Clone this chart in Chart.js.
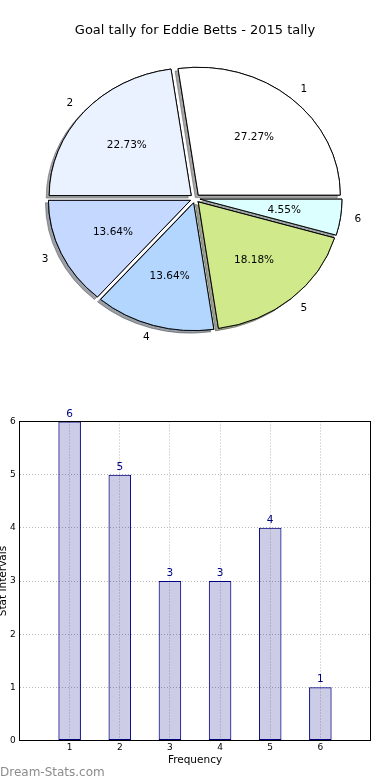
<!DOCTYPE html>
<html>
<head>
<meta charset="utf-8">
<script src="https://cdn.jsdelivr.net/npm/chart.js@4/dist/chart.umd.min.js"></script>
<style>
html,body{margin:0;padding:0;background:#fff;width:390px;height:780px;overflow:hidden;position:relative;font-family:"DejaVu Sans",sans-serif;}
#pieWrap{position:absolute;left:0;top:0;width:390px;height:400px;}
#barWrap{position:absolute;left:-3px;top:400px;width:393px;height:380px;}
#title{position:absolute;left:0;top:21.5px;width:390px;text-align:center;font-size:13px;line-height:16px;color:#000;}
#wm{position:absolute;left:0;top:765px;font-size:12px;line-height:14px;color:#8c8c8c;}
</style>
</head>
<body>
<div id="pieWrap"><canvas id="pie" width="390" height="400"></canvas></div>
<div id="barWrap"><canvas id="bar" width="393" height="380"></canvas></div>
<div id="title">Goal tally for Eddie Betts - 2015 tally</div>
<div id="wm">Dream-Stats.com</div>
<script>
// ---- data ----
const categories = [1, 2, 3, 4, 5, 6];
const goalCounts = [6, 5, 3, 3, 4, 1];
const pieLabels = ['1', '2', '3', '4', '5', '6'];
const yTickValues = [0, 1, 2, 3, 4, 5, 6];
const sliceColors = ['#FFFFFF', '#EBF2FF', '#C5D8FF', '#B3D6FF', '#D0EA8B', '#DCFFFF'];

Chart.defaults.font.family = '"DejaVu Sans", sans-serif';
Chart.defaults.color = '#000';

const FONT = '"DejaVu Sans", sans-serif';
const EXPLODE = 5;      // px outward shift of each wedge
const SQUASH = 0.9;     // vertical/horizontal aspect of the pie
const total = goalCounts.reduce((a, b) => a + b, 0);

// Chart.js draws clockwise from 3 o'clock with rotation 90; reverse to mimic counter-clockwise order
const pieOrder = categories.map((_, i) => i).reverse();

function rgbOf(hex) {
  const n = parseInt(hex.slice(1), 16);
  return [(n >> 16) & 255, (n >> 8) & 255, n & 255];
}

const pieFx = {
  id: 'pieFx',
  beforeDatasetDraw(chart, args) {
    const ctx = chart.ctx;
    const arcs = args.meta.data;
    const cx = arcs[0].x, cy = arcs[0].y;
    const paint = (withShadow) => {
      arcs.forEach(arc => {
        const mid = (arc.startAngle + arc.endAngle) / 2;
        ctx.save();
        if (withShadow) {
          const c = rgbOf(arc.options.backgroundColor);
          ctx.shadowColor = `rgba(${Math.round(c[0] * 0.3)},${Math.round(c[1] * 0.3)},${Math.round(c[2] * 0.3)},0.5)`;
          ctx.shadowOffsetX = -3;
          ctx.shadowOffsetY = 2.5;
          ctx.shadowBlur = 0;
        }
        ctx.translate(cx, cy);
        ctx.scale(1, SQUASH);
        ctx.translate(-cx, -cy);
        ctx.translate(Math.cos(mid) * EXPLODE, Math.sin(mid) * EXPLODE);
        arc.draw(ctx);
        ctx.restore();
      });
    };
    paint(true);
    paint(false);
    return false;
  },
  afterDatasetsDraw(chart) {
    const ctx = chart.ctx;
    const arcs = chart.getDatasetMeta(0).data;
    ctx.save();
    ctx.font = '10.5px ' + FONT;
    ctx.fillStyle = '#000';
    ctx.textBaseline = 'middle';
    arcs.forEach((arc, k) => {
      const i = pieOrder[k];
      const mid = (arc.startAngle + arc.endAngle) / 2;
      const c = Math.cos(mid), s = Math.sin(mid);
      const R = arc.outerRadius;
      const ex = arc.x + c * EXPLODE;
      const ey = arc.y + s * EXPLODE * SQUASH;
      ctx.textAlign = c > 0 ? 'left' : 'right';
      ctx.fillText(pieLabels[i], ex + c * R * 1.1, ey + s * R * 1.1 * SQUASH);
      ctx.textAlign = 'center';
      ctx.fillText((goalCounts[i] / total * 100).toFixed(2) + '%', ex + c * R * 0.6, ey + s * R * 0.6 * SQUASH);
    });
    ctx.restore();
  }
};

new Chart(document.getElementById('pie'), {
  type: 'pie',
  data: {
    labels: pieOrder.map(i => pieLabels[i]),
    datasets: [{
      data: pieOrder.map(i => goalCounts[i]),
      backgroundColor: pieOrder.map(i => sliceColors[i]),
      borderColor: '#000',
      borderWidth: 1
    }]
  },
  options: {
    responsive: false,
    animation: false,
    events: [],
    rotation: 90,
    radius: 142,
    layout: { padding: { left: 50, right: 50, top: 40, bottom: 43 } },
    plugins: { legend: { display: false }, tooltip: { enabled: false }, title: { display: false } }
  },
  plugins: [pieFx]
});

// ---- bar chart ----
const barFx = {
  id: 'barFx',
  afterDatasetsDraw(chart) {
    const ctx = chart.ctx;
    const a = chart.chartArea;
    ctx.save();
    ctx.strokeStyle = '#000';
    ctx.lineWidth = 1;
    ctx.strokeRect(a.left, a.top, a.right - a.left, a.bottom - a.top);
    ctx.font = '10.5px ' + FONT;
    ctx.fillStyle = '#000080';
    ctx.textAlign = 'center';
    ctx.textBaseline = 'alphabetic';
    chart.getDatasetMeta(0).data.forEach((bar, i) => {
      ctx.fillText(String(goalCounts[i]), bar.x, bar.y - 5);
    });
    ctx.restore();
  }
};

new Chart(document.getElementById('bar'), {
  type: 'bar',
  data: {
    datasets: [{
      data: categories.map((c, i) => ({ x: c, y: goalCounts[i] })),
      backgroundColor: 'rgba(0,0,128,0.2)',
      borderColor: '#000080',
      borderWidth: 1,
      borderSkipped: false,
      categoryPercentage: 1,
      barPercentage: 0.45
    }]
  },
  options: {
    responsive: false,
    animation: false,
    events: [],
    layout: { padding: { left: 0, top: 21.5, right: 19.5, bottom: 13.7 } },
    plugins: { legend: { display: false }, tooltip: { enabled: false } },
    scales: {
      x: {
        type: 'linear',
        min: 0,
        max: 7,
        offset: false,
        afterFit(s) { s.height = 25.8; },
        ticks: {
          stepSize: 1, autoSkip: false, maxRotation: 0, padding: 2,
          color: '#000', font: { size: 9 },
          callback: v => categories.includes(v) ? String(v) : ''
        },
        grid: { color: '#b8b8b8', lineWidth: 1, drawTicks: false, offset: false },
        border: { display: false, dash: [1, 2] },
        title: { display: true, text: 'Frequency', color: '#000', font: { size: 10.5 }, padding: 0 }
      },
      y: {
        min: 0,
        max: 6,
        afterFit(s) { s.width = 22.5; },
        ticks: {
          stepSize: 1, padding: 3.8, color: '#000', font: { size: 9 },
          callback: v => yTickValues.includes(v) ? String(v) : ''
        },
        grid: { color: '#b8b8b8', lineWidth: 1, drawTicks: false },
        border: { display: false, dash: [1, 2] },
        title: { display: true, text: 'Stat Intervals', color: '#000', font: { size: 10.5 }, padding: 0 }
      }
    }
  },
  plugins: [barFx]
});
</script>
</body>
</html>
